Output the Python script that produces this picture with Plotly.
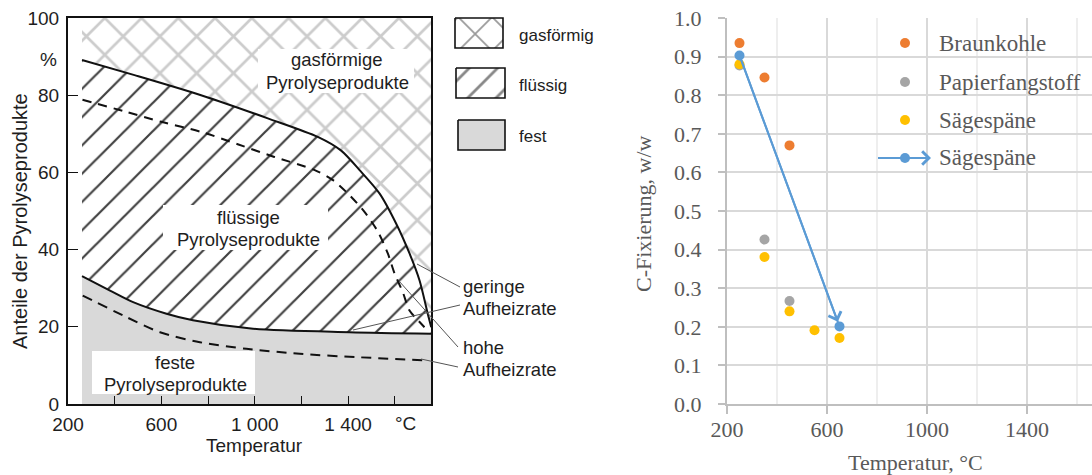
import plotly.graph_objects as go

W, H = 1092, 475

# ---------------- Left diagram (Anteile der Pyrolyseprodukte, %) ----------------
# boundary liquid / gas, low heating rate (solid line)
t_gas_slow = [260, 485, 770, 1056, 1270, 1369, 1449, 1535, 1606, 1663, 1706, 1741, 1756]
y_gas_slow = [89.1, 85.2, 80.0, 74.0, 69.2, 65.7, 60.6, 54.5, 46.7, 39.0, 32.0, 23.4, 19.9]
# boundary solid / liquid, low heating rate (solid line)
t_solid_slow = [260, 380, 479, 622, 735, 993, 1406, 1756]
y_solid_slow = [33.1, 29.4, 26.4, 23.4, 21.7, 19.5, 18.6, 18.2]
# boundary liquid / gas, high heating rate (dashed)
t_gas_fast = [262, 449, 599, 770, 927, 1084, 1257, 1335, 1406, 1471, 1528, 1570, 1599, 1634, 1663, 1699, 1727]
y_gas_fast = [78.8, 75.7, 73.1, 70.5, 67.3, 64.0, 60.6, 58.0, 54.1, 49.7, 44.6, 39.0, 33.8, 29.0, 24.2, 21.7, 19.9]
# boundary solid / liquid, high heating rate (dashed)
t_solid_fast = [263, 451, 594, 765, 964, 1193, 1449, 1735]
y_solid_fast = [28.1, 22.5, 18.6, 16.0, 14.3, 13.0, 12.1, 11.3]
# top of the diagram (100 %)
t_top = [260, 1756]
y_top = [100, 100]

left_xtickvals = [200, 400, 600, 800, 1000, 1200, 1400, 1600]
left_xticktext = ["200", "", "600", "", "1 000", "", "1 400", ""]
left_ytickvals = [0, 20, 40, 60, 80, 100]

# ---------------- Right chart (C-Fixierung, w/w) ----------------
braun_t = [250, 350, 450]
braun_c = [0.935, 0.846, 0.670]
papier_t = [250, 350, 450]
papier_c = [0.877, 0.426, 0.267]
saege_t = [250, 350, 450, 550, 650]
saege_c = [0.880, 0.381, 0.240, 0.191, 0.171]
trend_t = [250, 650]
trend_c = [0.903, 0.201]

right_names = ["Braunkohle", "Papierfangstoff", "Sägespäne", "Sägespäne"]
right_colors = ["#ED7D31", "#A5A5A5", "#FFC000", "#5B9BD5"]

SANS = "Liberation Sans, Arial, sans-serif"
SERIF = "Liberation Serif, Times New Roman, serif"
TXT = "#1e1e1e"
GREY_TXT = "#595959"


def px(x):
    return x / W


def py(y):
    return 1 - y / H


fig = go.Figure()

# ---- left fills ----
fig.add_trace(go.Scatter(x=t_solid_slow, y=y_solid_slow, mode="lines", line=dict(width=0, shape="spline"),
                         fill="tozeroy", fillcolor="#d9d9d9", xaxis="x", yaxis="y", hoverinfo="skip"))
fig.add_trace(go.Scatter(x=t_gas_slow, y=y_gas_slow, mode="lines", line=dict(width=0, shape="spline"),
                         fill="tonexty", fillcolor="white",
                         fillpattern=dict(shape="/", size=20, fgcolor="#000000", bgcolor="white",
                                          solidity=0.11, fgopacity=0.75),
                         xaxis="x", yaxis="y", hoverinfo="skip"))
fig.add_trace(go.Scatter(x=t_top, y=y_top, mode="lines", line=dict(width=0),
                         fill="tonexty", fillcolor="white",
                         fillpattern=dict(shape="x", size=26, fgcolor="#9a9a9a", bgcolor="white",
                                          solidity=0.2),
                         xaxis="x", yaxis="y", hoverinfo="skip"))
# ---- left lines ----
for t, y, dash in [(t_gas_slow, y_gas_slow, "solid"), (t_solid_slow, y_solid_slow, "solid"),
                   (t_gas_fast, y_gas_fast, "9px,7px"), (t_solid_fast, y_solid_fast, "10px,7px")]:
    fig.add_trace(go.Scatter(x=t, y=y, mode="lines",
                             line=dict(color="#111111", width=2, shape="spline", smoothing=0.8,
                                       dash=dash),
                             xaxis="x", yaxis="y", hoverinfo="skip"))

# ---- right data ----
for t, c, col in [(braun_t, braun_c, right_colors[0]), (papier_t, papier_c, right_colors[1]),
                  (saege_t, saege_c, right_colors[2])]:
    fig.add_trace(go.Scatter(x=t, y=c, mode="markers", marker=dict(size=10, color=col),
                             xaxis="x2", yaxis="y2"))
fig.add_trace(go.Scatter(x=trend_t, y=trend_c, mode="lines+markers",
                         line=dict(color=right_colors[3], width=2),
                         marker=dict(size=10, color=right_colors[3]), xaxis="x2", yaxis="y2"))

# ---- overlay pixel axis: legends ----
boxes = [((455, 18, 503, 48), "x"), ((456, 68, 505, 98), "/"), ((458, 120, 505, 150), None)]
for (x0, y0, x1, y1), pat in boxes:
    kw = dict(fillcolor="#d9d9d9") if pat is None else dict(
        fillcolor="white",
        fillpattern=dict(shape=pat, size=24 if pat == "x" else 20,
                         fgcolor="#111111" if pat == "/" else "#333333", bgcolor="white",
                         solidity=0.14))
    fig.add_trace(go.Scatter(x=[x0, x1, x1, x0, x0], y=[y0, y0, y1, y1, y0], mode="lines",
                             line=dict(color="#111111", width=1.6), fill="toself",
                             xaxis="x3", yaxis="y3", hoverinfo="skip", **kw))
leg_y = [43, 82, 120, 158]
fig.add_trace(go.Scatter(x=[878, 905], y=[158, 158], mode="lines",
                         line=dict(color=right_colors[3], width=2), xaxis="x3", yaxis="y3"))
fig.add_trace(go.Scatter(x=[905] * 4, y=leg_y, mode="markers",
                         marker=dict(size=10, color=right_colors), xaxis="x3", yaxis="y3"))

ann = []
shapes = []


def text(x, y, s, size=18.5, font=SANS, color=TXT, xanchor="center", angle=0):
    ann.append(dict(x=px(x), y=py(y), xref="paper", yref="paper", text=s, showarrow=False,
                    xanchor=xanchor, yanchor="middle", textangle=angle,
                    font=dict(family=font, size=size, color=color)))


def wbox(x0, y0, x1, y1):
    shapes.append(dict(type="rect", xref="paper", yref="paper", x0=px(x0), x1=px(x1),
                       y0=py(y1), y1=py(y0), fillcolor="white", line=dict(width=0), layer="above"))


def leader(x0, y0, x1, y1):
    shapes.append(dict(type="line", xref="paper", yref="paper", x0=px(x0), y0=py(y0),
                       x1=px(x1), y1=py(y1), line=dict(color="#555555", width=1), layer="above"))


wbox(258, 49, 414, 93)
text(337, 60, "gasförmige")
text(337, 82, "Pyrolyseprodukte")
wbox(163, 205, 328, 250)
text(248, 217, "flüssige")
text(248, 239, "Pyrolyseprodukte")
wbox(92, 351, 255, 394)
text(175, 362, "feste")
text(175, 384, "Pyrolyseprodukte")

text(461, 286, "geringe", xanchor="left")
text(461, 308, "Aufheizrate", xanchor="left")
text(461, 347, "hohe", xanchor="left")
text(461, 369, "Aufheizrate", xanchor="left")
leader(460, 287, 417, 264)
leader(460, 305, 353, 330)
leader(458, 347, 399, 281)
leader(458, 367, 421, 359)

text(48, 60, "%", size=19)
text(405, 423, "°C", size=19)
text(254, 445, "Temperatur", size=19)
text(20, 221, "Anteile der Pyrolyseprodukte", size=20, angle=-90)

text(517, 35, "gasförmig", size=17, xanchor="left")
text(517, 85, "flüssig", size=17, xanchor="left")
text(517, 137, "fest", size=17, xanchor="left")

for yy, name in zip(leg_y, right_names):
    text(937, yy, name, size=23, font=SERIF, color=GREY_TXT, xanchor="left")

text(643, 214, "C-Fixierung, w/w", size=22, font=SERIF, color=GREY_TXT, angle=-90)
text(915, 462, "Temperatur, °C", size=22, font=SERIF, color=GREY_TXT)

ann.append(dict(x=trend_t[1], y=trend_c[1], ax=trend_t[0], ay=trend_c[0], xref="x2", yref="y2",
                axref="x2", ayref="y2", text="", showarrow=True, arrowhead=4, arrowsize=1.3,
                arrowwidth=2, arrowcolor=right_colors[3], standoff=5))
ann.append(dict(x=931, y=158, ax=878, ay=158, xref="x3", yref="y3", axref="x3", ayref="y3",
                text="", showarrow=True, arrowhead=4, arrowsize=1.3, arrowwidth=2,
                arrowcolor=right_colors[3], standoff=0))

fig.update_layout(
    width=W, height=H, autosize=False,
    margin=dict(l=0, r=0, t=0, b=0, pad=0, autoexpand=False),
    paper_bgcolor="white", plot_bgcolor="rgba(0,0,0,0)", showlegend=False,
    annotations=ann, shapes=shapes,
    xaxis=dict(domain=[px(68), px(431)], range=[200, 1755], anchor="y", automargin=False,
               tickvals=left_xtickvals, ticktext=left_xticktext, ticks="inside", ticklen=8,
               tickwidth=1.2, tickcolor="#111111", showline=True, linecolor="#111111", linewidth=2,
               mirror=True, showgrid=False, zeroline=False, ticklabelstandoff=2,
               tickfont=dict(family=SANS, size=19, color=TXT)),
    yaxis=dict(domain=[py(404), py(18)], range=[0, 100], anchor="x", automargin=False,
               tickvals=left_ytickvals, ticks="inside", ticklen=10, tickwidth=1.2, tickcolor="#111111",
               showline=True, linecolor="#111111", linewidth=2, mirror=True, showgrid=False,
               zeroline=False, ticklabelstandoff=3,
               tickfont=dict(family=SANS, size=19, color=TXT)),
    xaxis2=dict(domain=[px(727), 1], range=[200, 1660], anchor="y2", automargin=False,
                tick0=200, dtick=400, ticks="outside", ticklen=8, tickwidth=2, tickcolor="#bfbfbf",
                showline=True, linecolor="#bfbfbf", linewidth=2, showgrid=True,
                gridcolor="#d9d9d9", gridwidth=2, zeroline=False, ticklabelstandoff=-3,
                minor=dict(dtick=200, tick0=200, showgrid=True, gridcolor="#eeeeee", gridwidth=2),
                tickfont=dict(family=SERIF, size=22, color=GREY_TXT)),
    yaxis2=dict(domain=[py(404), py(18)], range=[0, 1.0], anchor="x2", automargin=False,
                dtick=0.1, tickformat=".1f", ticks="outside", ticklen=7, tickwidth=2,
                tickcolor="#bfbfbf", showline=True, linecolor="#bfbfbf", linewidth=2,
                showgrid=True, gridcolor="#d9d9d9", gridwidth=2, zeroline=False,
                ticklabelstandoff=12, tickfont=dict(family=SERIF, size=22, color=GREY_TXT)),
    xaxis3=dict(domain=[0, 1], range=[0, W], anchor="y3", visible=False, fixedrange=True,
                automargin=False),
    yaxis3=dict(domain=[0, 1], range=[H, 0], anchor="x3", visible=False, fixedrange=True,
                automargin=False),
)

fig.write_html("out.html", config=dict(displayModeBar=False))
